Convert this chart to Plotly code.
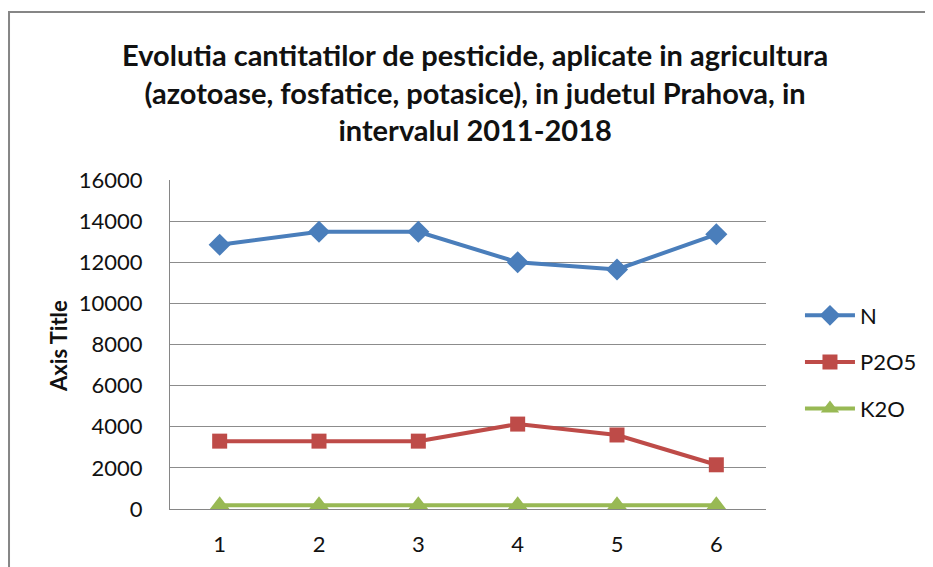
import plotly.graph_objects as go

categories = ["1", "2", "3", "4", "5", "6"]
n_values = [12850, 13480, 13480, 12000, 11650, 13360]
p2o5_values = [3300, 3300, 3300, 4130, 3600, 2150]
k2o_values = [180, 180, 180, 180, 180, 180]

series = [
    ("N", n_values, "#4a7ebb", "diamond", 17),
    ("P2O5", p2o5_values, "#be4b48", "square", 15),
    ("K2O", k2o_values, "#98b954", "triangle-up", 18),
]

FONT = "Lato, Calibri, Carlito, sans-serif"

fig = go.Figure()
for name, vals, color, symbol, size in series:
    fig.add_trace(go.Scatter(
        x=categories,
        y=vals,
        name=name,
        mode="lines+markers",
        line=dict(color=color, width=4),
        marker=dict(symbol=symbol, size=size, color=color),
        legendgroup=name,
    ))

# the page body adds an 8px margin, so the figure is 8px smaller
fig.update_layout(
    width=925,
    height=559,
    paper_bgcolor="white",
    plot_bgcolor="white",
    font=dict(family=FONT, size=22, color="#111111"),
    margin=dict(l=162, r=167, t=172, b=58, autoexpand=False),
    xaxis=dict(
        type="category",
        range=[-0.5, 5.5],
        showgrid=False,
        showline=True,
        linecolor="#868686",
        linewidth=1,
        ticks="outside",
        ticklen=16,
        tickcolor="rgba(0,0,0,0)",
        tickfont=dict(size=22),
    ),
    yaxis=dict(
        range=[0, 16000],
        dtick=2000,
        tickformat="d",
        showgrid=True,
        gridcolor="#8c8c8c",
        gridwidth=1,
        showline=True,
        linecolor="#868686",
        linewidth=1,
        zeroline=False,
        ticks="outside",
        ticklen=22,
        tickcolor="rgba(0,0,0,0)",
        tickfont=dict(size=22),
    ),
    legend=dict(
        x=1.057, xanchor="left",
        y=0.652, yanchor="top",
        traceorder="grouped",
        tracegroupgap=15,
        itemwidth=50,
        font=dict(size=22),
    ),
    showlegend=True,
)

fig.add_annotation(
    text="<b>Evolutia cantitatilor de pesticide, aplicate in agricultura<br>"
         "(azotoase, fosfatice, potasice), in judetul Prahova, in<br>"
         "intervalul 2011-2018</b>",
    xref="paper", yref="paper",
    x=0.512, y=1.268,
    xanchor="center", yanchor="middle",
    showarrow=False,
    font=dict(family=FONT, size=29, color="#111111"),
)

fig.add_annotation(
    text="<b>Axis Title</b>",
    xref="paper", yref="paper",
    x=-0.188, y=0.4954,
    xanchor="center", yanchor="middle",
    textangle=-90,
    showarrow=False,
    font=dict(family=FONT, size=22, color="#111111"),
)

# outer chart border
fig.add_shape(
    type="rect", xref="paper", yref="paper",
    x0=-0.2701, x1=1.4, y0=-0.3, y1=1.5106,
    line=dict(color="#868686", width=2),
    layer="below",
)

fig.write_html("out.html")
